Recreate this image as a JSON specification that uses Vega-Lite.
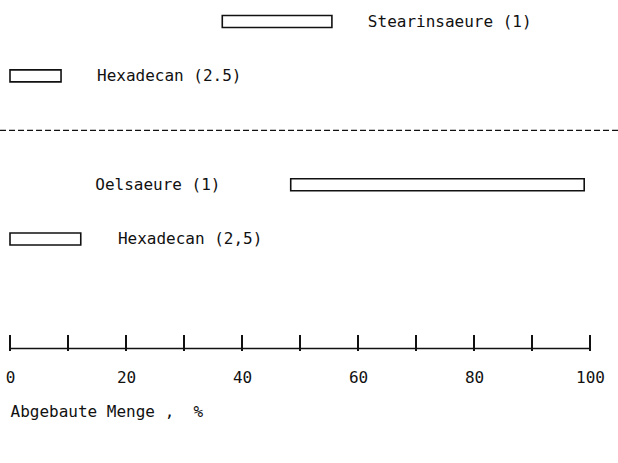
{
  "$schema": "https://vega.github.io/schema/vega-lite/v6.json",
  "width": 580,
  "height": 348,
  "autosize": {"type": "none"},
  "padding": {"left": 10, "top": 0, "right": 28, "bottom": 115},
  "background": "white",
  "config": {"view": {"stroke": null}, "font": "DejaVu Sans Mono"},
  "data": {
    "values": [
      {"kind": "bar", "x": 36.6, "x2": 55.5, "row": 0},
      {"kind": "bar", "x": 0, "x2": 8.8, "row": 1},
      {"kind": "bar", "x": 48.4, "x2": 99.0, "row": 3},
      {"kind": "bar", "x": 0, "x2": 12.2, "row": 4},
      {"kind": "label", "x": 61.7, "row": 0, "label": "Stearinsaeure (1)"},
      {"kind": "label", "x": 15.0, "row": 1, "label": "Hexadecan (2.5)"},
      {"kind": "label", "x": 14.7, "row": 3, "label": "Oelsaeure (1)"},
      {"kind": "label", "x": 18.6, "row": 4, "label": "Hexadecan (2,5)"},
      {"kind": "sep", "x": -1.72, "x2": 104.83, "row": 2},
      {"kind": "tick", "x": 0, "row": 5.9107},
      {"kind": "tick", "x": 10, "row": 5.9107},
      {"kind": "tick", "x": 20, "row": 5.9107},
      {"kind": "tick", "x": 30, "row": 5.9107},
      {"kind": "tick", "x": 40, "row": 5.9107},
      {"kind": "tick", "x": 50, "row": 5.9107},
      {"kind": "tick", "x": 60, "row": 5.9107},
      {"kind": "tick", "x": 70, "row": 5.9107},
      {"kind": "tick", "x": 80, "row": 5.9107},
      {"kind": "tick", "x": 90, "row": 5.9107},
      {"kind": "tick", "x": 100, "row": 5.9107}
    ]
  },
  "encoding": {
    "x": {
      "field": "x",
      "type": "quantitative",
      "scale": {"domain": [0, 100], "nice": false, "zero": false},
      "axis": {
        "values": [0, 20, 40, 60, 80, 100],
        "ticks": false,
        "grid": false,
        "domain": true,
        "domainColor": "#111111",
        "domainWidth": 1.5,
        "labelFont": "DejaVu Sans Mono",
        "labelFontSize": 16,
        "labelColor": "#111111",
        "labelPadding": 21,
        "labelFlush": false,
        "title": "Abgebaute Menge ,\u00a0 %",
        "titleFont": "DejaVu Sans Mono",
        "titleFontSize": 16,
        "titleFontWeight": "normal",
        "titleColor": "#111111",
        "titleAnchor": "start",
        "titleAlign": "left",
        "titleX": 0,
        "titlePadding": 18
      }
    },
    "y": {
      "field": "row",
      "type": "quantitative",
      "scale": {"domain": [-0.30357, 5.91071], "reverse": true, "nice": false, "zero": false},
      "axis": null
    }
  },
  "layer": [
    {
      "transform": [{"filter": "datum.kind === 'bar'"}],
      "mark": {"type": "bar", "size": 12, "fill": "white", "stroke": "#111111", "strokeWidth": 1.6},
      "encoding": {"x2": {"field": "x2"}}
    },
    {
      "transform": [{"filter": "datum.kind === 'label'"}],
      "mark": {"type": "text", "align": "left", "baseline": "middle", "fontSize": 16, "font": "DejaVu Sans Mono", "color": "#111111"},
      "encoding": {"text": {"field": "label"}}
    },
    {
      "transform": [{"filter": "datum.kind === 'sep'"}],
      "mark": {"type": "rule", "stroke": "#111111", "strokeWidth": 1.3, "strokeDash": [6, 3]},
      "encoding": {"x2": {"field": "x2"}}
    },
    {
      "transform": [{"filter": "datum.kind === 'tick'"}],
      "mark": {"type": "tick", "orient": "vertical", "size": 16, "thickness": 2, "color": "#111111", "opacity": 1},
      "encoding": {}
    }
  ]
}
